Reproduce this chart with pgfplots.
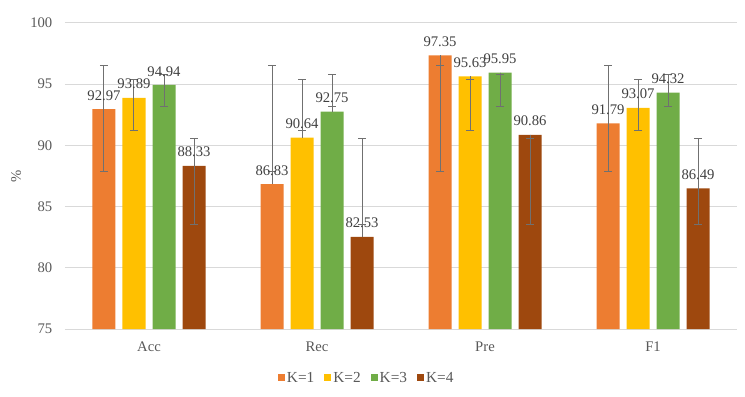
\documentclass[border=0pt]{standalone}
\usepackage{fontspec}
\setmainfont{Liberation Serif}
\usepackage{pgfplots}
\pgfplotsset{compat=1.18}
\usepackage{pgfplotstable}
\definecolor{c1}{HTML}{ED7D31}
\definecolor{c2}{HTML}{FFC000}
\definecolor{c3}{HTML}{70AD47}
\definecolor{c4}{HTML}{9E480E}
\definecolor{gridc}{HTML}{D9D9D9}
\definecolor{tickc}{HTML}{595959}
\definecolor{labc}{HTML}{404040}
\definecolor{errc}{HTML}{707070}
\pgfplotstableread{
x y ep em lab
0 92.97 3.53 5.07 92.97
1 86.83 9.67 -1.07 86.83
2 97.35 -0.85 9.45 97.35
3 91.79 4.71 3.89 91.79
}\kone
\pgfplotstableread{
x y ep em lab
0 93.89 1.46 2.69 93.89
1 90.64 4.71 -0.56 90.64
2 95.63 -0.28 4.43 95.63
3 93.07 2.28 1.87 93.07
}\ktwo
\pgfplotstableread{
x y ep em lab
0 94.94 0.86 1.79 94.94
1 92.75 3.05 -0.40 92.75
2 95.95 -0.15 2.80 95.95
3 94.32 1.48 1.17 94.32
}\kthree
\pgfplotstableread{
x y ep em lab
0 88.33 2.22 4.81 88.33
1 82.53 8.02 -0.99 82.53
2 90.86 -0.31 7.34 90.86
3 86.49 4.06 2.97 86.49
}\kfour
\begin{document}
\begin{tikzpicture}
\begin{axis}[
  scale only axis, width=504pt, height=229.5pt,
  ybar=5.25pt, bar width=17.25pt,
  xmin=-0.5, xmax=3.5, ymin=75, ymax=100,
  xtick={0,1,2,3}, xticklabels={Acc,Rec,Pre,F1},
  ytick={75,80,...,100},
  ymajorgrids, grid style={draw=gridc, line width=0.75pt},
  axis line style={draw=none},
  major tick length=0pt,
  tick label style={font=\fontsize{11}{13}\selectfont, text=tickc},
  /pgf/number format/assume math mode=true,
  yticklabel style={xshift=-6pt},
  xticklabel style={yshift=-6pt},
  ylabel={\%}, ylabel style={font=\fontsize{11}{13}\selectfont, text=tickc},
  legend style={at={(rel axis cs:0.449,-0.16)}, anchor=center, draw=none, fill=none,
    legend columns=4, font=\fontsize{11.5}{13}\selectfont, text=tickc,
    /tikz/every even column/.append style={column sep=6pt},
    nodes={inner sep=1.5pt}},
  legend image code/.code={\fill[#1] (0pt,-2.6pt) rectangle (5.25pt,2.6pt);},
  nodes near coords, point meta=explicit symbolic,
  every node near coord/.append style={font=\fontsize{11}{13}\selectfont, text=labc, yshift=3pt},
  error bars/y dir=both, error bars/y explicit,
  error bars/error bar style={draw=errc, line width=0.75pt},
  error bars/error mark options={draw=errc, line width=0.75pt, mark size=3pt, rotate=90},
]
\coordinate (bl) at (rel axis cs:0,0);
\addplot[fill=c1, draw=none] table[x=x, y=y, y error plus=ep, y error minus=em, meta=lab] {\kone};
\addplot[fill=c2, draw=none] table[x=x, y=y, y error plus=ep, y error minus=em, meta=lab] {\ktwo};
\addplot[fill=c3, draw=none] table[x=x, y=y, y error plus=ep, y error minus=em, meta=lab] {\kthree};
\addplot[fill=c4, draw=none] table[x=x, y=y, y error plus=ep, y error minus=em, meta=lab] {\kfour};
\legend{K=1,K=2,K=3,K=4}
\end{axis}
\pgfresetboundingbox
\path (bl) ++(-48.75pt,-50.25pt) rectangle ++(558.75pt,297pt);
\end{tikzpicture}
\end{document}
